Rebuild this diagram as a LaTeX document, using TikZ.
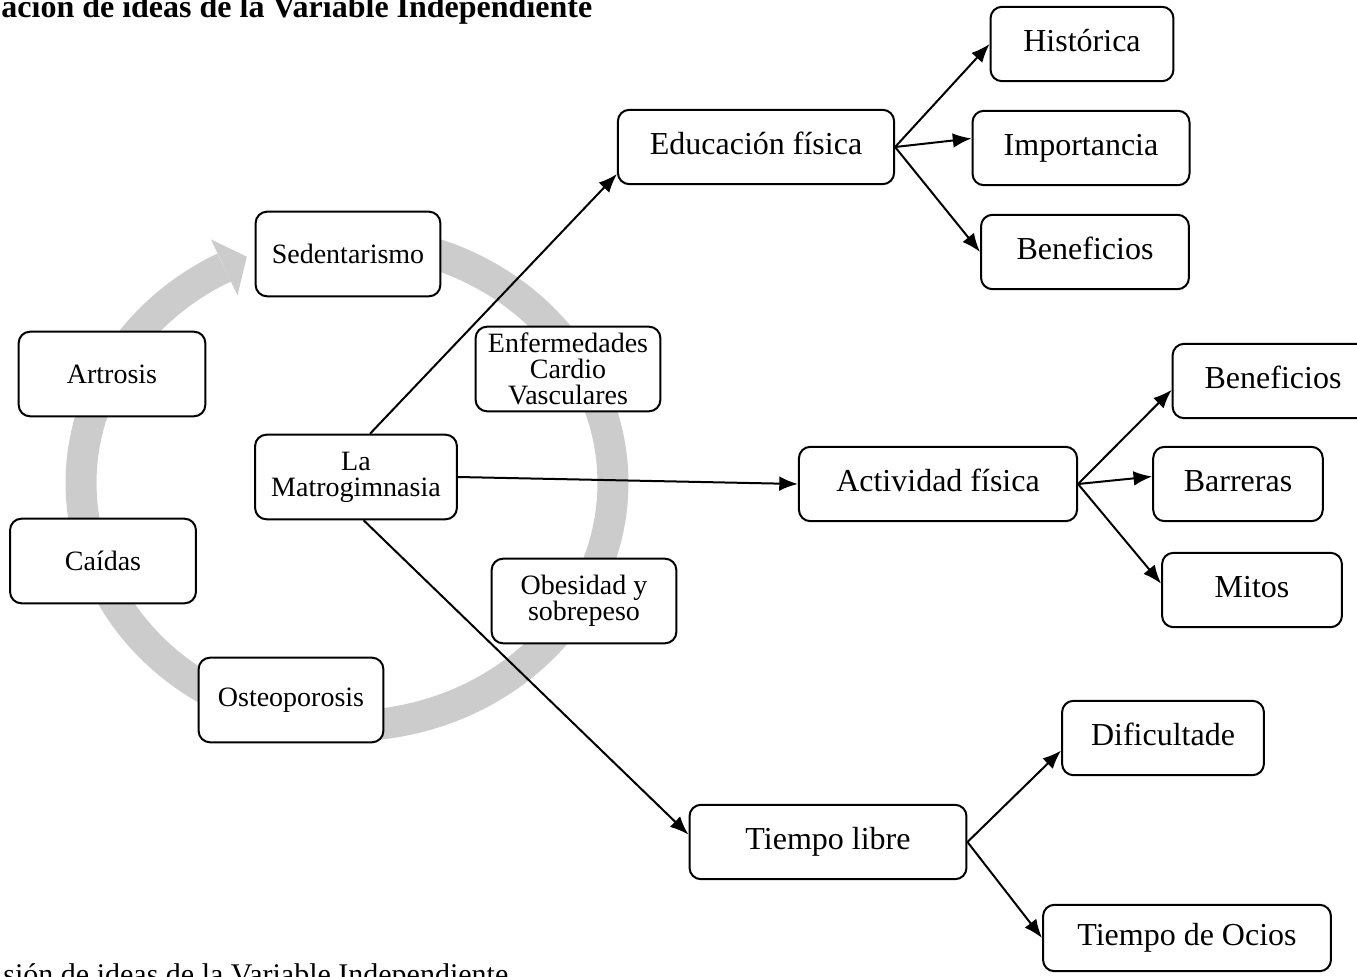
\documentclass[tikz,border=0pt]{standalone}
\usepackage{fontspec}
\setmainfont{Liberation Serif}
\usetikzlibrary{positioning, arrows.meta}
\definecolor{ringgray}{RGB}{204,204,204}

\begin{document}
\begin{tikzpicture}[x=0.75pt, y=-0.75pt,
	smallbox/.style={rectangle, draw, fill=white, rounded corners=0.3cm, line width=1.5pt,
	text centered, align=center, minimum width=4.87cm, minimum height=2.23cm, inner sep=1pt,
	font=\fontsize{21}{19.5}\selectfont},
	bigbox/.style={rectangle, draw, fill=white, rounded corners=0.3cm, line width=1.5pt,
	text centered, text height=17pt, text depth=6pt, minimum height=1.96cm, 
	font=\fontsize{24}{28}\selectfont},
	link/.style={-{Latex[length=14pt,width=11pt]}, line width=1.5pt}]
			
			\useasboundingbox (0,0) rectangle (1357,977);
			
			%Titles
			\node (title) at (597,18) [anchor=base east, font=\fontsize{24}{28}\selectfont\bfseries] 
			{ación de ideas de la Variable Independiente};
			\node (caption) at (513,984) [anchor=base east, font=\fontsize{22.5}{26}\selectfont] 
			{sión de ideas de la Variable Independiente};
			
			%Cycle
			\draw [ringgray, line width=23.25pt] plot [domain=-242.5:95, samples=160] 
			({347+266*cos(\x)}, {483-243*sin(\x)});
			\fill [ringgray] (210.9,239.4) -- (246.8,256.7) -- (237.5,295.4) -- cycle;
			
			%Nodes
			\node (sedentarismo) at (348,254) [smallbox] {Sedentarismo};
			\node (artrosis) at (112,374) [smallbox, minimum width=4.92cm] {Artrosis};
			\node (caidas) at (103,561) [smallbox, minimum width=4.9cm] {Caídas};
			\node (osteoporosis) at (291,700) [smallbox] {Osteoporosis};
			\node (matrogimnasia) at (356,477) [smallbox, minimum width=5.32cm] {La\\Matrogimnasia};
			\node (cardio) at (568,369) [smallbox] {Enfermedades\\Cardio\\Vasculares};
			\node (obesidad) at (584,601) [smallbox] {Obesidad y\\sobrepeso};
			
			\node (eduFisica) at (756,147) [bigbox, minimum width=7.28cm] {Educación física};
			\node (historica) at (1082,44) [bigbox, minimum width=4.82cm] {Histórica};
			\node (importancia) at (1081,148) [bigbox, minimum width=5.72cm] {Importancia};
			\node (beneficiosEdu) at (1085,252) [bigbox, minimum width=5.48cm] {Beneficios};
			
			\node (actFisica) at (938,484) [bigbox, minimum width=7.33cm] {Actividad física};
			\node (beneficiosAct) at (1273,381) [bigbox, minimum width=5.29cm] {Beneficios};
			\node (barreras) at (1238,484) [bigbox, minimum width=4.47cm] {Barreras};
			\node (mitos) at (1252,590) [bigbox, minimum width=4.74cm] {Mitos};
			
			\node (tiempoLibre) at (828,842) [bigbox, minimum width=7.3cm] {Tiempo libre};
			\node (dificultade) at (1163,738) [bigbox, minimum width=5.32cm] {Dificultade};
			\node (tiempoOcio) at (1187,938) [bigbox, minimum width=7.59cm, minimum height=1.75cm] 
			{Tiempo de Ocios};
			
			%Links
			\draw [link] (matrogimnasia.72) -- (eduFisica.191);
			\draw [link] (matrogimnasia.east) -- (actFisica.west);
			\draw [link] (matrogimnasia.-80) -- (tiempoLibre.177);
			\draw [link] (eduFisica.east) -- (historica.west);
			\draw [link] (eduFisica.east) -- (importancia.175);
			\draw [link] (eduFisica.east) -- (beneficiosEdu.west);
			\draw [link] (actFisica.east) -- (beneficiosAct.185);
			\draw [link] (actFisica.east) -- (barreras.175);
			\draw [link] (actFisica.east) -- (mitos.176);
			\draw [link] (tiempoLibre.east) -- (dificultade.187);
			\draw [link] (tiempoLibre.east) -- (tiempoOcio.west);
			
\end{tikzpicture}
\end{document}
